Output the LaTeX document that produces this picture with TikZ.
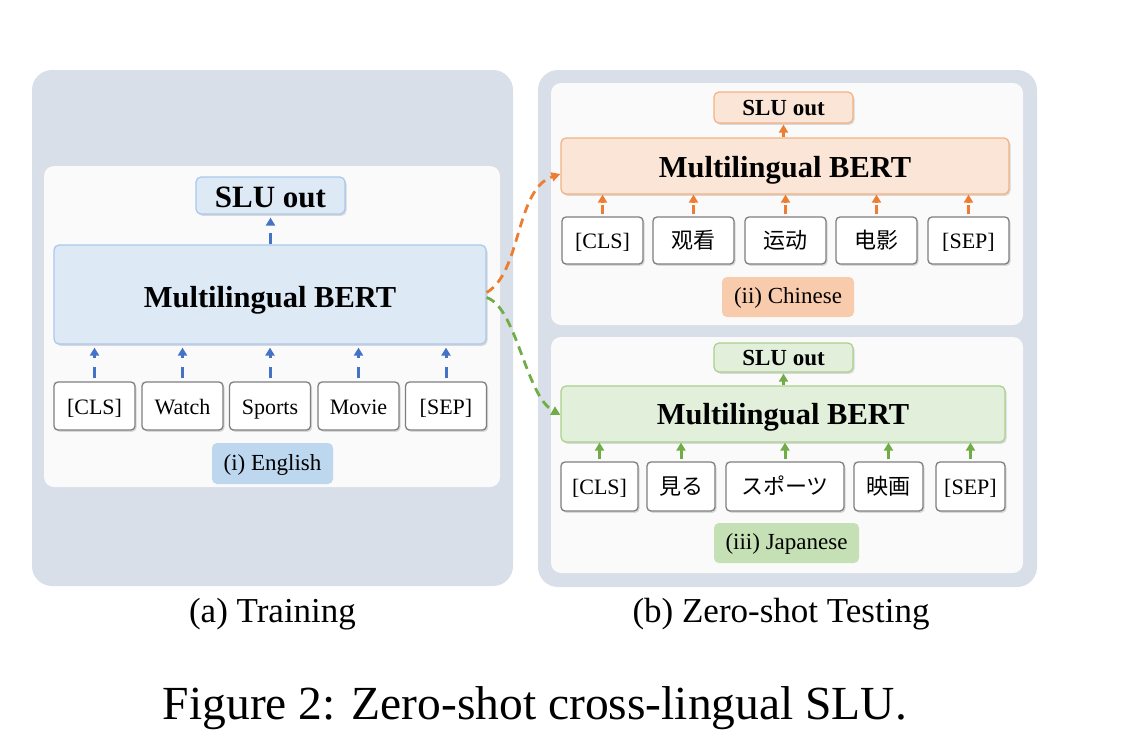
\documentclass[tikz,border=0pt]{standalone}
\usepackage{fontspec}
\setmainfont{Liberation Serif}
\newfontfamily\zhfont{Noto Sans CJK SC}
\newfontfamily\jafont{Noto Sans CJK JP}
\usetikzlibrary{arrows.meta,shadows}
\definecolor{panelbg}{HTML}{D8DFE8}
\definecolor{innerbg}{HTML}{FAFAFA}
\definecolor{bfill}{HTML}{DEE9F6}
\definecolor{bdraw}{HTML}{A9C8EC}
\definecolor{barrow}{HTML}{4472C4}
\definecolor{blab}{HTML}{BDD7EE}
\definecolor{ofill}{HTML}{FBE5D6}
\definecolor{odraw}{HTML}{F4B183}
\definecolor{oarrow}{HTML}{ED7D31}
\definecolor{olab}{HTML}{F8CBAD}
\definecolor{gfill}{HTML}{E2EFDA}
\definecolor{gdraw}{HTML}{A9D18E}
\definecolor{garrow}{HTML}{70AD47}
\definecolor{glab}{HTML}{C5E0B4}
\definecolor{tokdraw}{HTML}{7F7F7F}
\tikzset{
  panel/.style={fill=panelbg, rounded corners=20pt, inner sep=0pt},
  inner/.style={fill=innerbg, rounded corners=10pt, inner sep=0pt},
  shad/.style={drop shadow={opacity=0.28, shadow xshift=1.5pt, shadow yshift=-1.8pt}},
  colbox/.style={rounded corners=5pt, line width=1.2pt, inner sep=0pt, shad},
  tokbox/.style={draw=tokdraw, fill=white, rounded corners=4pt, line width=1.3pt, inner sep=0pt, shad, font=\fontsize{22}{26}\selectfont, text height=18pt, text depth=2pt},
  labbox/.style={rounded corners=5pt, inner sep=0pt, font=\fontsize{23}{27}\selectfont, text height=17pt, text depth=4pt},
  bigbert/.style={font=\fontsize{30.5}{36}\selectfont\bfseries},
  darr/.style={line width=3pt, -{Triangle[length=8pt,width=9pt]}},
  curvarr/.style={line width=2.8pt, dash pattern=on 9pt off 6pt, -{Triangle[length=9pt,width=9pt]}}
}
\begin{document}
\begin{tikzpicture}[x=1pt,y=-1pt]
\useasboundingbox (0,0) rectangle (1138,740);
% panels
\node[panel, minimum width=481pt, minimum height=516pt] (pa) at (272.5,328) {};
\node[inner, minimum width=456pt, minimum height=321pt] (ia) at (272,326.5) {};
\node[panel, minimum width=499pt, minimum height=517pt] (pb) at (787.5,328.5) {};
\node[inner, minimum width=472pt, minimum height=242pt] (ib) at (787,204) {};
\node[inner, minimum width=472pt, minimum height=236pt] (ic) at (787,455) {};

% ---------- English ----------
\node[colbox, draw=bdraw, fill=bfill, minimum width=149pt, minimum height=37pt, font=\fontsize{31}{36}\selectfont\bfseries, text height=24pt, text depth=1pt] (sE) at (270.5,195.5) {SLU out};
\node[colbox, draw=bdraw, fill=bfill, minimum width=432pt, minimum height=99pt, bigbert, text height=30pt, text depth=5pt] (bE) at (270,294.5) {Multilingual BERT};
\foreach \n/\x/\t in {e1/94.5/{[CLS]}, e2/182.5/Watch, e3/270/Sports, e4/358.5/Movie, e5/446/{[SEP]}}{
  \node[tokbox, minimum width=81pt, minimum height=48pt] (\n) at (\x,406) {\t};
  \draw[darr, barrow, dash pattern=on 11pt off 9pt, shorten <=3pt, shorten >=3pt] (\n.north) -- (\n.north |- bE.south);
}
\draw[darr, barrow, dash pattern=on 11pt off 9pt, shorten >=3pt] (sE.south |- bE.north) -- (sE.south);
\node[labbox, fill=blab, minimum width=121pt, minimum height=41pt] (lE) at (272.5,463.5) {(i) English};

% ---------- Chinese ----------
\node[colbox, draw=odraw, fill=ofill, minimum width=139pt, minimum height=31pt, font=\fontsize{23}{27}\selectfont\bfseries, text height=16pt, text depth=1pt] (sC) at (783.5,107.5) {SLU out};
\node[colbox, draw=odraw, fill=ofill, minimum width=448pt, minimum height=56pt, bigbert, text height=23pt, text depth=1pt] (bC) at (785,166) {Multilingual BERT};
\foreach \n/\x/\t in {c1/602.5/{[CLS]}, c2/693.5/{\zhfont 观看}, c3/785.5/{\zhfont 运动}, c4/876.5/{\zhfont 电影}, c5/968.5/{[SEP]}}{
  \node[tokbox, minimum width=81pt, minimum height=47pt] (\n) at (\x,240.5) {\t};
  \draw[darr, oarrow, dash pattern=on 9pt off 3pt, shorten <=2pt] (\n.north) -- (\n.north |- bC.south);
}
\draw[darr, oarrow, line width=2.6pt, shorten >=1pt] (sC.south |- bC.north) -- (sC.south);
\node[labbox, fill=olab, minimum width=132pt, minimum height=40pt] (lC) at (788,297) {(ii) Chinese};

% ---------- Japanese ----------
\node[colbox, draw=gdraw, fill=gfill, minimum width=139pt, minimum height=29pt, font=\fontsize{23}{27}\selectfont\bfseries, text height=16pt, text depth=1pt] (sJ) at (783.5,357.5) {SLU out};
\node[colbox, draw=gdraw, fill=gfill, minimum width=444pt, minimum height=56pt, bigbert, text height=22pt, text depth=1pt] (bJ) at (783,414) {Multilingual BERT};
\foreach \n/\x/\w/\t in {j1/599.5/77/{[CLS]}, j2/681/68/{\jafont 見る}, j3/785/118/{\jafont スポーツ}, j4/888.5/69/{\jafont 映画}, j5/970.5/69/{[SEP]}}{
  \node[tokbox, minimum width=\w pt, minimum height=49pt] (\n) at (\x,486.5) {\t};
  \draw[darr, garrow, dash pattern=on 9pt off 3pt, shorten <=2pt] (\n.north) -- (\n.north |- bJ.south);
}
\draw[darr, garrow, line width=2.6pt, shorten >=1pt] (sJ.south |- bJ.north) -- (sJ.south);
\node[labbox, fill=glab, minimum width=145pt, minimum height=40pt] (lJ) at (786.5,543) {(iii) Japanese};

% ---------- cross-lingual curves ----------
\draw[curvarr, oarrow] ([yshift=2pt]bE.east) .. controls +(35,-20) and +(-45,15) .. ([yshift=-8pt]bC.west);
\draw[curvarr, garrow] ([yshift=-3pt]bE.east) .. controls +(30,10) and +(-35,-20) .. ([yshift=-1pt]bJ.west);

% ---------- captions ----------
\node[anchor=base, inner sep=0pt, font=\fontsize{35}{40}\selectfont] (capa) at (272.5,622.5) {(a) Training};
\node[anchor=base, inner sep=0pt, font=\fontsize{35}{40}\selectfont] (capb) at (781,622.5) {(b) Zero-shot Testing};
\node[anchor=base, inner sep=0pt, font=\fontsize{47.5}{54}\selectfont] (fig) at (535,719) {Figure 2: Zero-shot cross-lingual SLU.};
\end{tikzpicture}
\end{document}
